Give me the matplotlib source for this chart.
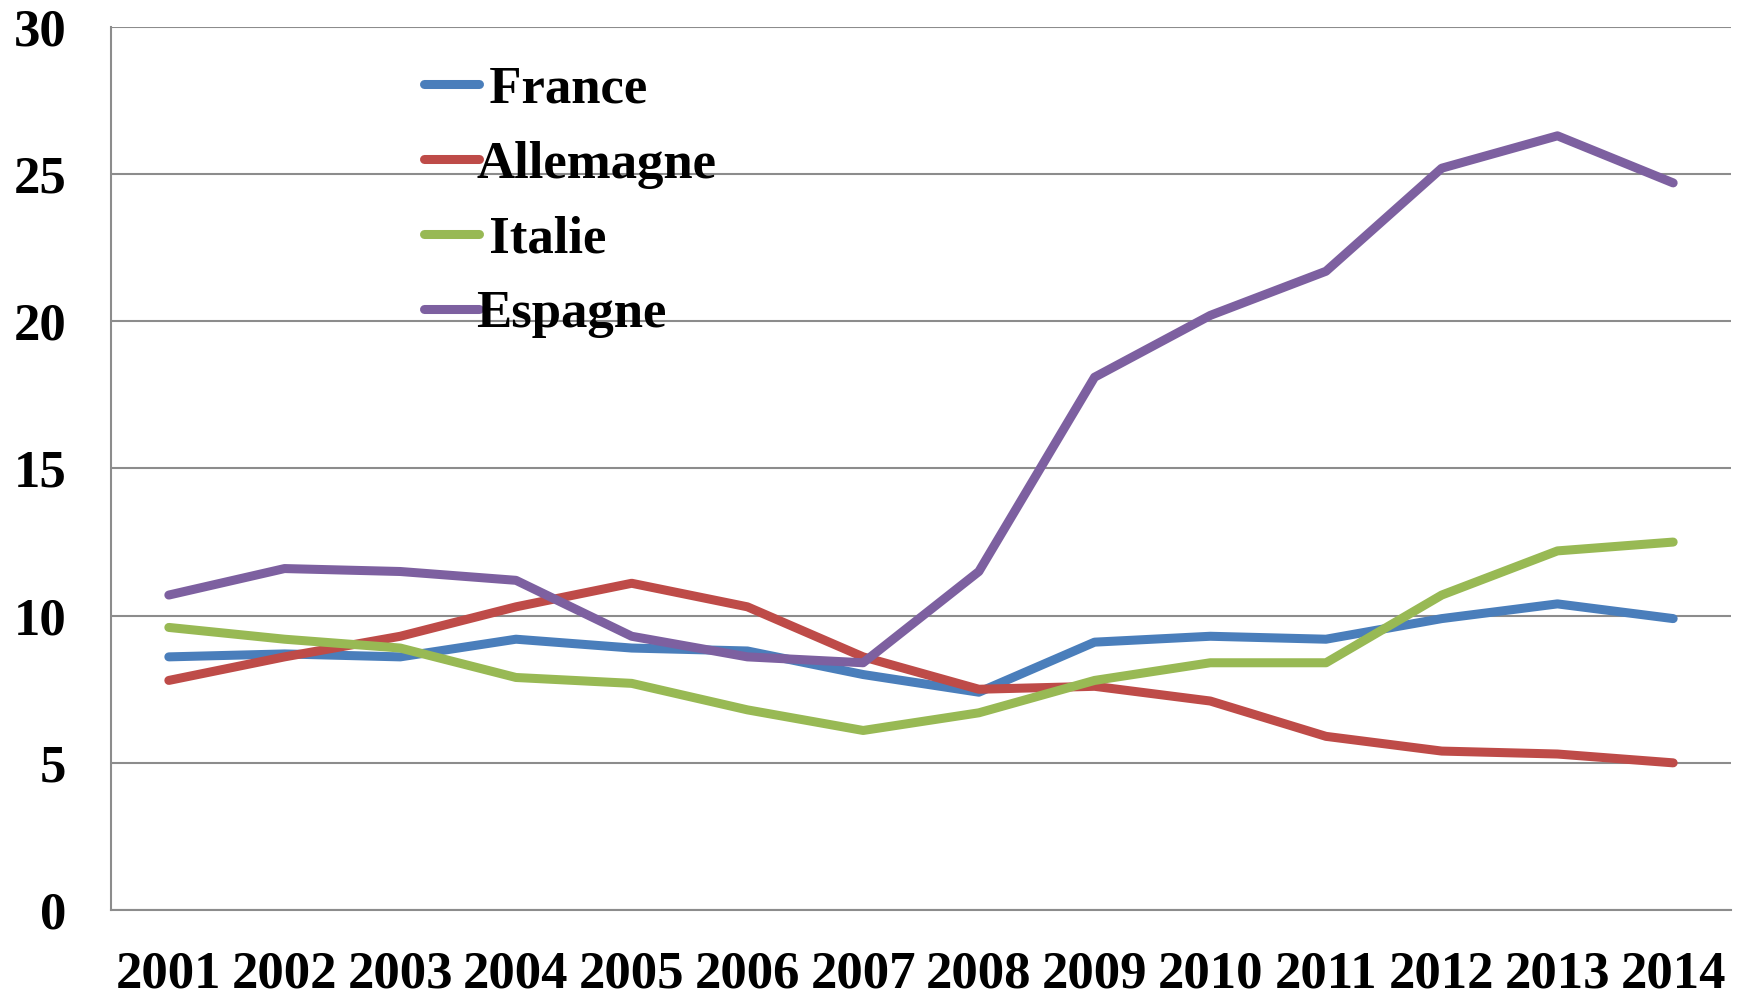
import matplotlib
matplotlib.use("Agg")
import matplotlib.pyplot as plt

years = ["2001", "2002", "2003", "2004", "2005", "2006", "2007",
         "2008", "2009", "2010", "2011", "2012", "2013", "2014"]
france = [8.6, 8.7, 8.6, 9.2, 8.9, 8.8, 8.0, 7.4, 9.1, 9.3, 9.2, 9.9, 10.4, 9.9]
allemagne = [7.8, 8.6, 9.3, 10.3, 11.1, 10.3, 8.6, 7.5, 7.6, 7.1, 5.9, 5.4, 5.3, 5.0]
italie = [9.6, 9.2, 8.9, 7.9, 7.7, 6.8, 6.1, 6.7, 7.8, 8.4, 8.4, 10.7, 12.2, 12.5]
espagne = [10.7, 11.6, 11.5, 11.2, 9.3, 8.6, 8.4, 11.5, 18.1, 20.2, 21.7, 25.2, 26.3, 24.7]
series_labels = [" France", "Allemagne", " Italie", "Espagne"]
colors = ["#4A7EBB", "#BE4B48", "#98B954", "#7D60A0"]
yticks = [0, 5, 10, 15, 20, 25, 30]

plt.rcParams['font.family'] = ['Liberation Serif', 'DejaVu Serif']
plt.rcParams['font.weight'] = 'bold'

fig = plt.figure(figsize=(17.42, 9.96), dpi=100)
ax = fig.add_axes([0.0637, 0.0863, 0.930, 0.8867])

x = list(range(len(years)))
for vals, lab, c in zip([france, allemagne, italie, espagne], series_labels, colors):
    ax.plot(x, vals, color=c, lw=6.5, label=lab, solid_capstyle='round',
            solid_joinstyle='round', zorder=3)

ax.set_xlim(-0.5, len(years) - 0.5)
ax.set_ylim(0, 30)
ax.set_yticks(yticks)
ax.set_yticklabels([str(t) for t in yticks], fontsize=38, fontweight='bold')
ax.set_xticks(x)
ax.set_xticklabels(years, fontsize=38, fontweight='bold')
ax.tick_params(axis='both', length=0)
ax.tick_params(axis='y', pad=32)
ax.tick_params(axis='x', pad=29)

ax.grid(axis='y', color='#8C8C8C', lw=1.5, zorder=1)
for s in ['top', 'right']:
    ax.spines[s].set_visible(False)
for s in ['left', 'bottom']:
    ax.spines[s].set_color('#8C8C8C')
    ax.spines[s].set_linewidth(1.5)

leg = ax.legend(loc='upper left', bbox_to_anchor=(0.18, 0.98), frameon=False,
                prop={'family': 'Liberation Serif', 'weight': 'bold', 'size': 38},
                handlelength=1.05, handletextpad=-0.05, labelspacing=0.51,
                borderaxespad=0)

fig.savefig("out.png", dpi=100)
